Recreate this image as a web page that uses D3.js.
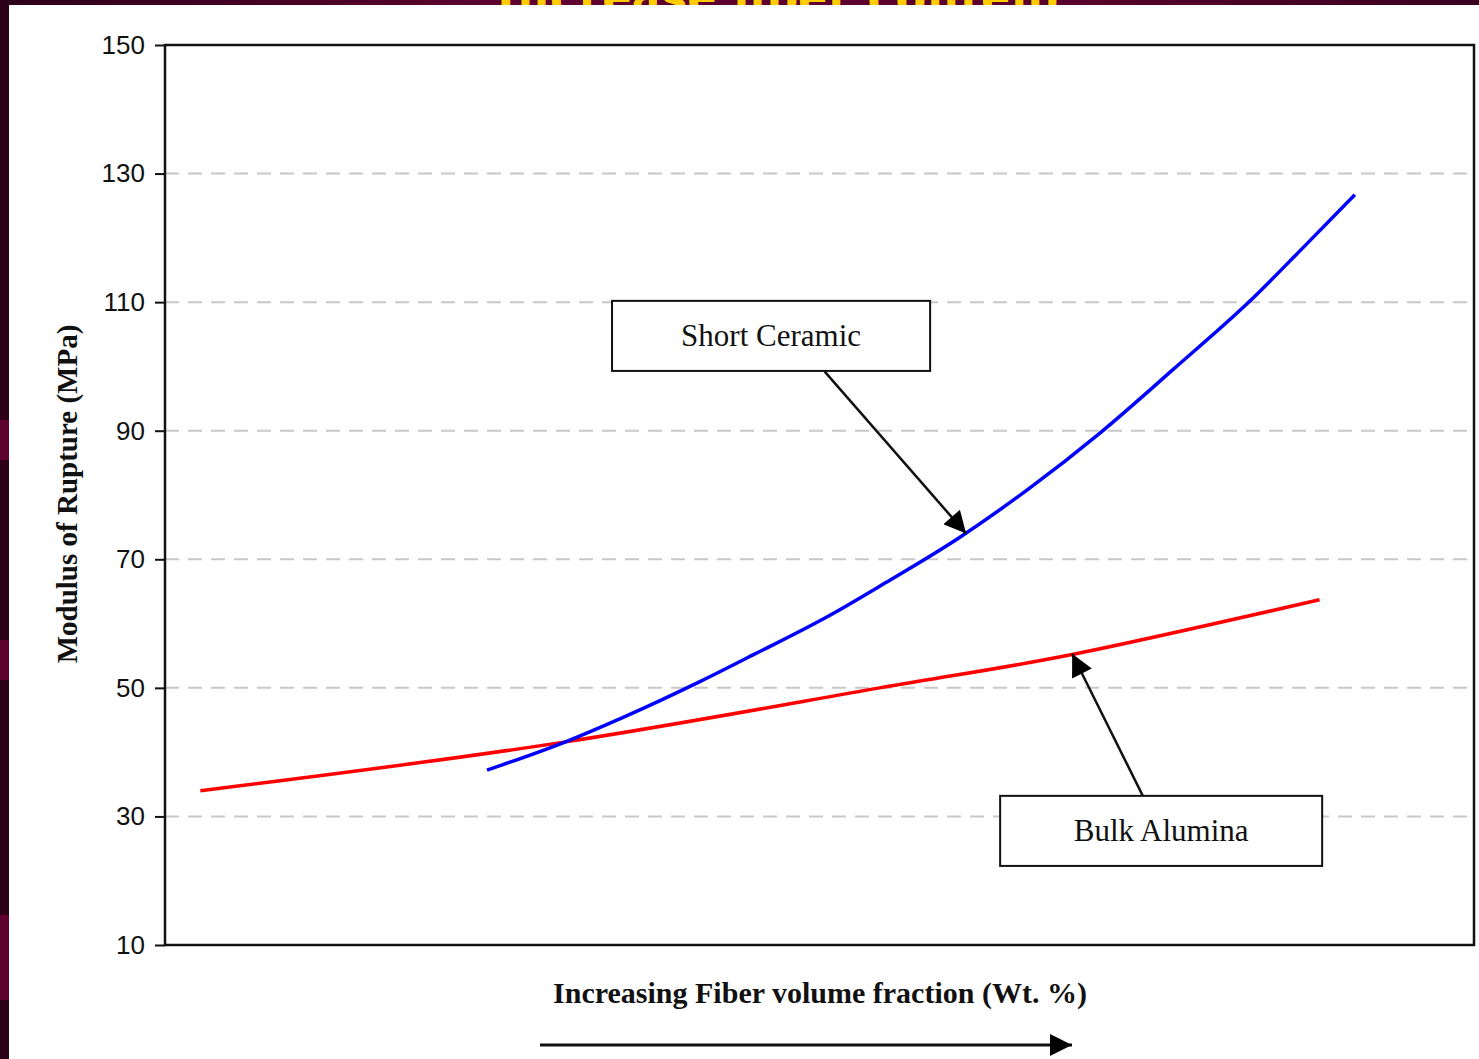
<!DOCTYPE html>
<html><head><meta charset="utf-8">
<script src="https://cdn.jsdelivr.net/npm/d3@7"></script>
<style>html,body{margin:0;padding:0;background:#3a0020;overflow:hidden}</style>
</head><body>
<svg id="c" width="1479" height="1059"></svg>
<script>
// ---- data ----
const yTicks = [10, 30, 50, 70, 90, 110, 130, 150];
const gridValues = [30, 50, 70, 90, 110, 130];
const bulkX = [2.7, 30.6, 54.6, 69.1, 88.2];
const bulkY = [34.0, 41.6, 50.0, 55.1, 63.7];
const shortX = [24.6, 30.6, 35, 40.9, 45, 50.8, 55, 60.7, 66, 71.4, 77, 82.9, 87, 90.9];
const shortY = [37.2, 41.6, 45.4, 51.0, 55.2, 61.3, 66.3, 73.4, 81.0, 89.6, 99.5, 110.2, 118.6, 126.7];
const seriesNames = ["Short Ceramic", "Bulk Alumina"];
const titleText = "Increase fiber content";
const xLabel = "Increasing Fiber volume fraction (Wt. %)";
const yLabel = "Modulus of Rupture (MPa)";
// annotation anchors in data units: box [x0,x1,yTop,yBottom], arrow [fromX,fromY,toX,toY]
const annShort = {box: [34.15, 58.45, 110.2, 99.3], arrow: [50.4, 99.2, 61.2, 74.0]};
const annBulk = {box: [63.8, 88.4, 33.2, 22.3], arrow: [74.7, 33.2, 69.3, 55.3]};

const svg = d3.select("#c");
const W = 1479, H = 1059;
const m = {l: 165, r: 1474, t: 45, b: 945};

// background frame
const defs = svg.append("defs");
const g1 = defs.append("linearGradient").attr("id","bg").attr("x1","0").attr("x2","1").attr("y1","0").attr("y2","0");
g1.append("stop").attr("offset","0").attr("stop-color","#2c0018");
g1.append("stop").attr("offset","0.35").attr("stop-color","#5e0030");
g1.append("stop").attr("offset","0.7").attr("stop-color","#5a002e");
g1.append("stop").attr("offset","1").attr("stop-color","#3a0020");
svg.append("rect").attr("width",W).attr("height",H).attr("fill","url(#bg)");
svg.append("rect").attr("x",0).attr("y",420).attr("width",9).attr("height",40).attr("fill","#600030");
svg.append("rect").attr("x",0).attr("y",640).attr("width",9).attr("height",40).attr("fill","#600030");
svg.append("rect").attr("x",0).attr("y",915).attr("width",9).attr("height",85).attr("fill","#600030");
svg.append("text").attr("x",780).attr("y",13).attr("text-anchor","middle")
  .attr("font-family","DejaVu Serif, serif").attr("font-weight","bold").attr("font-size",46)
  .attr("fill","#ffcc00").text(titleText);
svg.append("rect").attr("x",9).attr("y",5).attr("width",W-9).attr("height",H-5).attr("fill","#ffffff");

const x = d3.scaleLinear().domain([0,100]).range([m.l, m.r]);
const y = d3.scaleLinear().domain([10,150]).range([m.b, m.t]);

// grid
svg.append("g").selectAll("line").data(gridValues).join("line")
  .attr("x1", m.l).attr("x2", m.r).attr("y1", d=>y(d)).attr("y2", d=>y(d))
  .attr("stroke","#c8c8c8").attr("stroke-width",2).attr("stroke-dasharray","14,9");

// y axis
const ya = svg.append("g").attr("transform",`translate(${m.l},0)`)
  .call(d3.axisLeft(y).tickValues(yTicks).tickSize(10).tickPadding(10).tickFormat(d3.format("d")));
ya.select(".domain").remove();
ya.selectAll(".tick line").attr("stroke","#111").attr("stroke-width",2);
ya.selectAll(".tick text").attr("font-family","Liberation Sans Narrow, Arial Narrow, Liberation Sans, sans-serif")
  .attr("font-size",26).attr("fill","#111");

// frame
svg.append("rect").attr("x",m.l).attr("y",m.t).attr("width",m.r-m.l).attr("height",m.b-m.t)
  .attr("fill","none").attr("stroke","#111").attr("stroke-width",2.5);

// lines
const lineB = d3.line().x(d=>x(d[0])).y(d=>y(d[1])).curve(d3.curveNatural);
const line = d3.line().x(d=>x(d[0])).y(d=>y(d[1])).curve(d3.curveMonotoneX);
svg.append("path").attr("d", lineB(d3.zip(bulkX, bulkY))).attr("fill","none").attr("stroke","#ff0000").attr("stroke-width",3.5);
svg.append("path").attr("d", line(d3.zip(shortX, shortY))).attr("fill","none").attr("stroke","#0000ff").attr("stroke-width",3.5);

// arrow marker
defs.append("marker").attr("id","ah2").attr("viewBox","0 0 10 10").attr("refX",10).attr("refY",5)
  .attr("markerWidth",24).attr("markerHeight",22).attr("markerUnits","userSpaceOnUse").attr("orient","auto")
  .append("path").attr("d","M0,0L10,5L0,10Z").attr("fill","#000");

function annotate(a, label){
  const [x0,x1,yt,yb] = a.box;
  svg.append("rect").attr("x",x(x0)).attr("y",y(yt)).attr("width",x(x1)-x(x0)).attr("height",y(yb)-y(yt))
    .attr("fill","#fff").attr("stroke","#111").attr("stroke-width",2);
  svg.append("text").attr("x",(x(x0)+x(x1))/2).attr("y",(y(yt)+y(yb))/2+10).attr("text-anchor","middle")
    .attr("font-family","Liberation Serif, Times New Roman, serif").attr("font-size",31).attr("fill","#111").text(label);
  const [fx,fy,tx,ty] = a.arrow;
  svg.append("line").attr("x1",x(fx)).attr("y1",y(fy)).attr("x2",x(tx)).attr("y2",y(ty))
    .attr("stroke","#111").attr("stroke-width",2.5).attr("marker-end","url(#ah2)");
}
annotate(annShort, seriesNames[0]);
annotate(annBulk, seriesNames[1]);

// labels
svg.append("text").attr("x",820).attr("y",1003).attr("text-anchor","middle")
  .attr("font-family","Liberation Serif, Times New Roman, serif").attr("font-weight","bold").attr("font-size",30)
  .attr("fill","#111").text(xLabel);
svg.append("line").attr("x1",540).attr("x2",1072).attr("y1",1045).attr("y2",1045)
  .attr("stroke","#111").attr("stroke-width",3).attr("marker-end","url(#ah2)");
svg.append("text").attr("transform","translate(77,494) rotate(-90)").attr("text-anchor","middle")
  .attr("font-family","Liberation Serif, Times New Roman, serif").attr("font-weight","bold").attr("font-size",29)
  .attr("fill","#111").text(yLabel);
</script>
</body></html>
